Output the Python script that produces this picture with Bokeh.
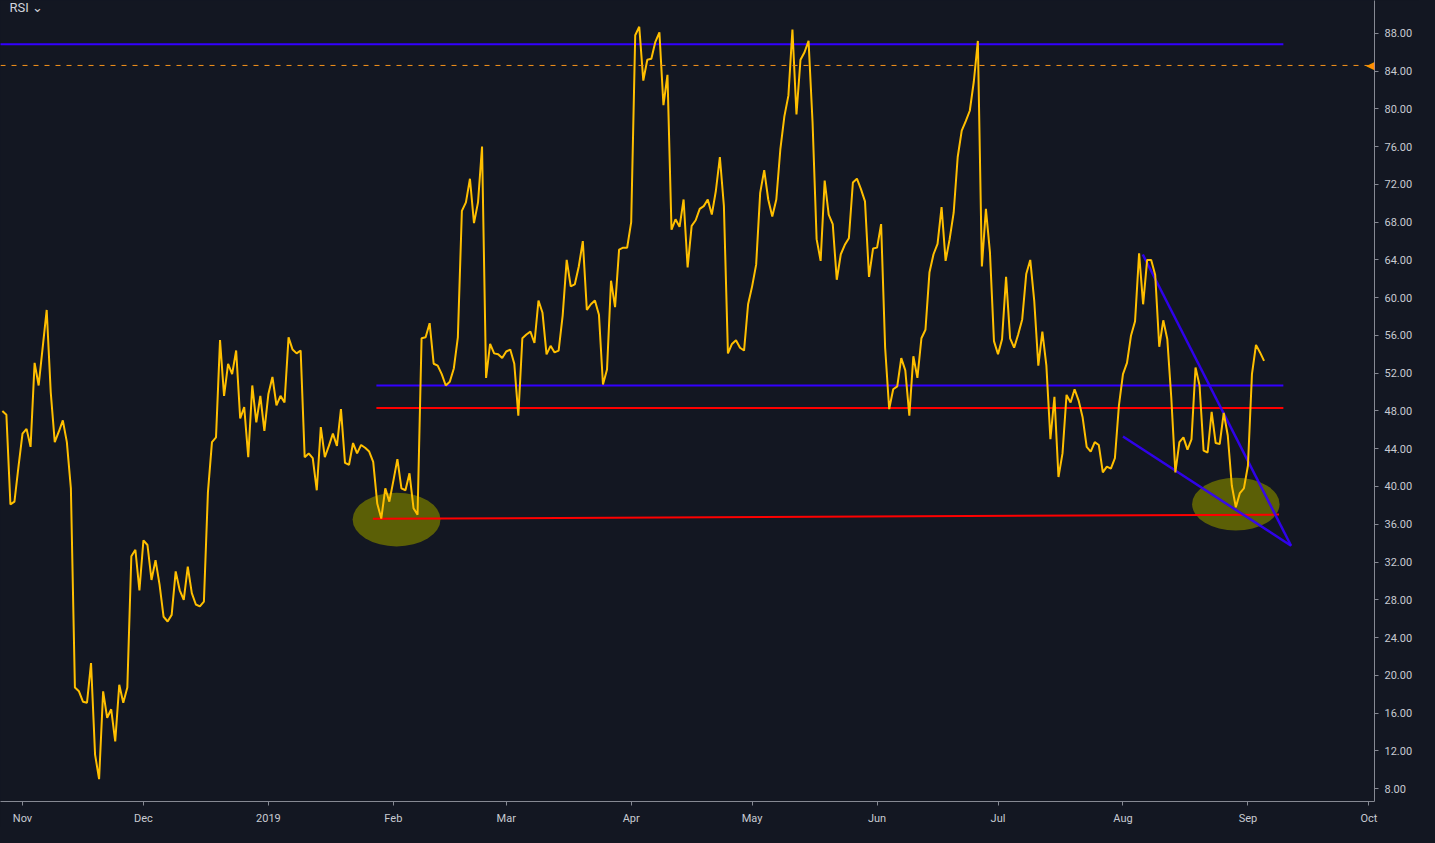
import pandas as pd
from bokeh.plotting import figure
from bokeh.models import (Range1d, FixedTicker, NumeralTickFormatter,
                          CustomJSTickFormatter, Span, Label)
from bokeh.embed import file_html
from bokeh.resources import INLINE

# ---------------- data ----------------
start_date = "2018-10-27"          # first daily RSI value
rsi = [
    48.0, 47.6, 38.1, 38.4, 42.1, 45.6, 46.1, 44.2, 53.1, 50.7,
    54.7, 58.7, 50.0, 44.7, 45.8, 47.0, 44.7, 39.8, 18.7, 18.3,
    17.2, 17.1, 21.3, 11.6, 9.0, 18.3, 15.5, 16.4, 13.0, 19.0,
    17.1, 18.7, 32.6, 33.3, 29.0, 34.3, 33.8, 30.1, 32.2, 29.6,
    26.2, 25.7, 26.4, 31.0, 29.0, 28.0, 31.5, 28.7, 27.5, 27.3,
    27.8, 39.4, 44.7, 45.2, 55.5, 49.6, 53.0, 51.9, 54.4, 47.2,
    48.4, 43.1, 50.7, 46.8, 49.6, 45.9, 49.8, 51.6, 48.6, 49.6,
    48.9, 55.8, 54.5, 54.1, 54.4, 43.1, 43.5, 43.0, 39.6, 46.3,
    43.1, 44.3, 45.6, 44.3, 48.2, 42.5, 42.3, 44.6, 43.5, 44.4,
    44.1, 43.7, 42.6, 38.2, 36.6, 39.8, 38.4, 40.6, 42.9, 39.8,
    39.6, 41.4, 37.7, 37.0, 55.7, 55.8, 57.3, 53.0, 52.8, 51.9,
    50.7, 51.1, 52.5, 55.8, 69.2, 70.1, 72.6, 67.9, 70.1, 76.0,
    51.5, 55.1, 54.1, 54.0, 53.6, 54.3, 54.5, 53.0, 47.5, 55.7,
    56.1, 56.4, 55.2, 59.7, 58.4, 54.0, 54.9, 54.2, 54.4, 58.1,
    64.0, 61.2, 61.4, 63.3, 66.0, 58.7, 59.3, 59.7, 58.2, 50.8,
    52.4, 61.8, 59.0, 65.1, 65.3, 65.3, 68.0, 87.8, 88.7, 83.0,
    85.2, 85.3, 87.1, 88.1, 80.4, 83.6, 67.2, 68.3, 67.5, 70.4,
    63.2, 67.6, 68.2, 69.4, 69.7, 70.4, 68.8, 71.3, 74.9, 69.7,
    54.1, 55.1, 55.5, 54.7, 54.4, 59.3, 61.2, 63.5, 71.1, 73.5,
    70.4, 68.6, 70.4, 75.7, 79.2, 81.4, 88.4, 79.4, 85.2, 86.0,
    87.2, 78.5, 66.2, 63.9, 72.4, 68.8, 67.8, 61.9, 64.6, 65.6,
    66.3, 72.2, 72.6, 71.5, 70.2, 62.2, 65.2, 65.3, 67.8, 54.7,
    48.2, 50.3, 50.6, 53.6, 52.3, 47.5, 53.8, 51.5, 55.7, 56.6,
    62.7, 64.6, 65.7, 69.6, 63.9, 66.2, 69.0, 74.9, 77.7, 78.7,
    79.8, 82.9, 87.2, 63.3, 69.4, 64.8, 55.4, 54.0, 55.6, 62.2,
    55.7, 54.7, 56.1, 57.7, 62.5, 64.0, 59.6, 52.8, 56.4, 52.8,
    45.0, 49.5, 41.0, 43.5, 49.7, 48.9, 50.3, 49.1, 47.3, 44.2,
    43.7, 44.7, 44.4, 41.5, 42.1, 41.9, 43.0, 48.6, 51.9, 53.1,
    56.0, 57.5, 64.7, 59.3, 64.0, 64.0, 62.4, 54.8, 57.6, 55.6,
    49.3, 41.5, 44.7, 45.2, 43.9, 45.0, 52.6, 50.7, 43.8, 43.6,
    47.9, 44.6, 44.5, 47.8, 45.4, 40.1, 37.8, 39.3, 39.8, 42.2,
    51.9, 55.0, 54.2, 53.3,
]

y_ticks = list(range(8, 89, 4))
month_ticks = pd.date_range("2018-11-01", "2019-10-01", freq="MS")

# drawn levels / trend lines (date, value)
top_level = 86.84
alert_level = 84.6
resist_level = 50.69
support_level = 48.32
top_line_dates = ["2018-10-20 00:00", "2019-09-09 19:00"]
mid_line_dates = ["2019-01-27 19:00", "2019-09-09 19:00"]
low_line_dates = ["2019-01-26 22:00", "2019-09-08 17:00"]
low_line_values = [36.57, 37.02]
trend_a_dates = ["2019-08-05 22:00", "2019-09-11 17:00"]
trend_a_values = [64.57, 33.72]
trend_b_dates = ["2019-08-01 00:00", "2019-09-11 17:00"]
trend_b_values = [45.29, 33.72]
zone_dates = ["2019-02-01 19:00", "2019-08-29 00:00"]
zone_values = [36.5, 38.13]
zone_days = [21.8, 21.7]
zone_heights = [5.7, 5.6]

# ---------------- styling ----------------
BG = "#131722"
TXT = "#c8cbd2"
AXIS = "#868993"
BLUE = "#3300ff"
RED = "#ff0000"
ORANGE = "#f7931a"
YELLOW = "#ffbf00"
FONT = "Roboto"
DAY = 86400000


def ts(lst):
    return [pd.Timestamp(s) for s in lst]


def ms(t):
    return pd.Timestamp(t).value // 10**6


origin = ms("2018-11-01")
x_start = origin - 5.46 * DAY
x_end = origin + 335.40 * DAY
y_low, y_high = 6.63, 91.48

dates = pd.date_range(start_date, periods=len(rsi), freq="D")

p = figure(width=1419, height=827, x_axis_type="datetime",
           y_axis_location="right",
           x_range=Range1d(x_start, x_end), y_range=Range1d(y_low, y_high),
           output_backend="svg", toolbar_location=None,
           min_border_left=0, min_border_top=0,
           min_border_right=45, min_border_bottom=23)
p.background_fill_color = BG
p.border_fill_color = BG
p.outline_line_color = None
p.grid.visible = False

# axes
ya = p.yaxis[0]
ya.ticker = FixedTicker(ticks=y_ticks)
ya.formatter = NumeralTickFormatter(format="0.00")
xa = p.xaxis[0]
xa.ticker = FixedTicker(ticks=[ms(t) for t in month_ticks])
xa.formatter = CustomJSTickFormatter(code="""
const d = new Date(tick);
const m = d.getUTCMonth();
if (m === 0) { return String(d.getUTCFullYear()); }
return ["Jan","Feb","Mar","Apr","May","Jun","Jul","Aug","Sep","Oct","Nov","Dec"][m];
""")
for ax in (xa, ya):
    ax.axis_line_color = AXIS
    ax.axis_line_width = 1
    ax.major_tick_line_color = AXIS
    ax.major_tick_out = 4
    ax.major_tick_in = 0
    ax.minor_tick_line_color = None
    ax.major_label_text_color = TXT
    ax.major_label_text_font = FONT
    ax.major_label_text_font_size = "11px"
    ax.major_label_standoff = 6

# highlighted zones
p.ellipse(x=ts(zone_dates), y=zone_values,
          width=[d * DAY for d in zone_days], height=zone_heights,
          fill_color="#6e7200", fill_alpha=0.8, line_color=None)

# alert dashed line
p.add_layout(Span(location=alert_level, dimension="width",
                  line_color=ORANGE, line_width=1, line_dash="5 6"))

# horizontal levels
p.line(ts(top_line_dates), [top_level, top_level],
       line_color=BLUE, line_width=2)
p.line(ts(mid_line_dates), [resist_level, resist_level],
       line_color=BLUE, line_width=2)
p.line(ts(mid_line_dates), [support_level, support_level],
       line_color=RED, line_width=2)
p.line(ts(low_line_dates), low_line_values,
       line_color=RED, line_width=2)

# trend lines
p.line(ts(trend_a_dates), trend_a_values,
       line_color=BLUE, line_width=2.5, line_alpha=0.9)
p.line(ts(trend_b_dates), trend_b_values,
       line_color=BLUE, line_width=2.5, line_alpha=0.9)

# RSI
p.line(dates, rsi, line_color=YELLOW, line_width=2)

# labels
p.add_layout(Label(x=x_end, y=alert_level, text="◀", text_color="#ff8c00",
                   text_font="DejaVu Sans", text_font_size="11px",
                   text_baseline="middle", text_align="right", x_offset=0))
p.add_layout(Label(x=x_start, y=y_high, text="RSI ⌄", text_color="#d1d4dc",
                   text_font=FONT, text_font_size="13px",
                   text_baseline="alphabetic", x_offset=9, y_offset=-7))

html = file_html(p, INLINE, title="RSI")
html = html.replace("<body>", '<body style="background-color:#131722;">')
open("out.html", "w").write(html)
